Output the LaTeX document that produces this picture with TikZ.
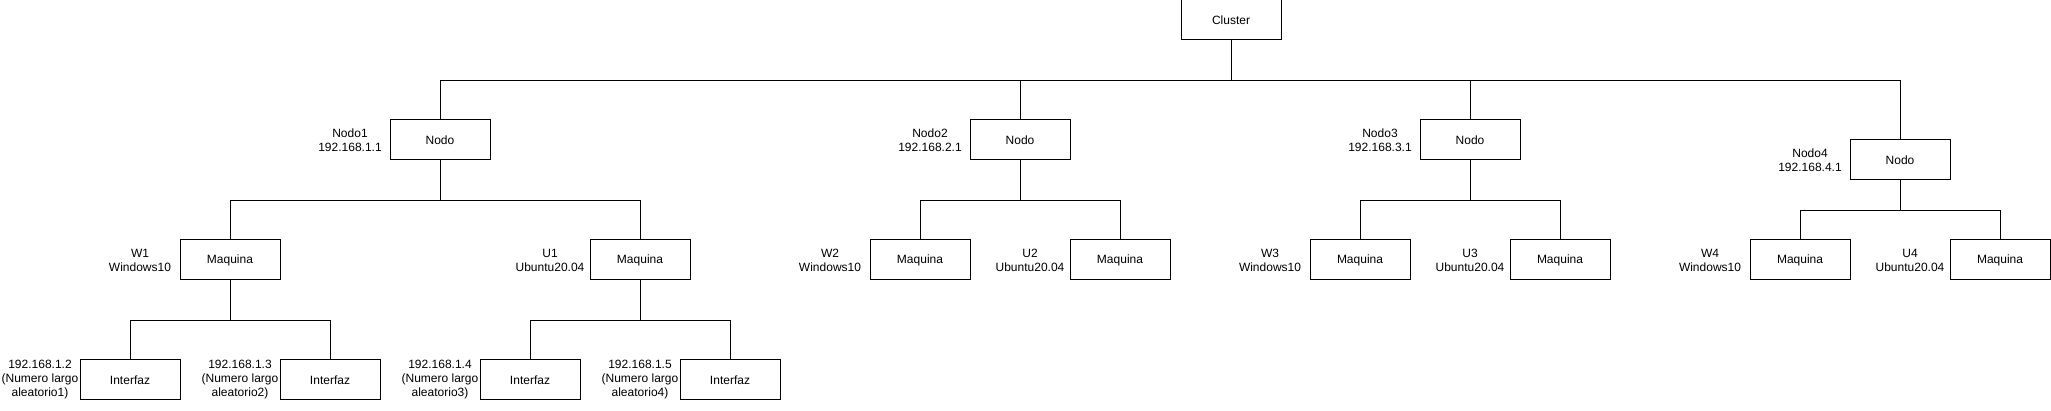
\documentclass[tikz,border=0pt]{standalone}
\usepackage{fontspec}
\setmainfont{Liberation Sans}
\usepackage{tikz}
\usetikzlibrary{positioning}

\tikzset{
  caja/.style={draw=black, fill=white, line width=1pt, minimum width=100pt, minimum height=40pt, inner sep=0pt, font=\fontsize{12}{14}\selectfont},
  etiqueta/.style={align=center, inner sep=0pt, font=\fontsize{12}{14}\selectfont},
  rama/.style={black, line width=1pt}
}

\begin{document}
\begin{tikzpicture}[x=1pt, y=-1pt]

\useasboundingbox (0,0) rectangle (2051,411);

\node[caja] (cluster) at (1231,20) {Cluster};

\node[caja] (nodo1) at (440,140) {Nodo};
\node[caja] (nodo2) at (1020,140) {Nodo};
\node[caja] (nodo3) at (1470,140) {Nodo};
\node[caja] (nodo4) at (1900,160) {Nodo};

\node[etiqueta] (nodo1l) at ([xshift=-90pt]nodo1.center) {Nodo1\\192.168.1.1};
\node[etiqueta] (nodo2l) at ([xshift=-90pt]nodo2.center) {Nodo2\\192.168.2.1};
\node[etiqueta] (nodo3l) at ([xshift=-90pt]nodo3.center) {Nodo3\\192.168.3.1};
\node[etiqueta] (nodo4l) at ([xshift=-90pt]nodo4.center) {Nodo4\\192.168.4.1};

\node[caja] (w1) at (230,260) {Maquina};
\node[caja] (u1) at (640,260) {Maquina};
\node[caja] (w2) at (920,260) {Maquina};
\node[caja] (u2) at (1120,260) {Maquina};
\node[caja] (w3) at (1360,260) {Maquina};
\node[caja] (u3) at (1560,260) {Maquina};
\node[caja] (w4) at (1800,260) {Maquina};
\node[caja] (u4) at (2000,260) {Maquina};

\node[etiqueta] (w1l) at ([xshift=-90pt]w1.center) {W1\\Windows10};
\node[etiqueta] (u1l) at ([xshift=-90pt]u1.center) {U1\\Ubuntu20.04};
\node[etiqueta] (w2l) at ([xshift=-90pt]w2.center) {W2\\Windows10};
\node[etiqueta] (u2l) at ([xshift=-90pt]u2.center) {U2\\Ubuntu20.04};
\node[etiqueta] (w3l) at ([xshift=-90pt]w3.center) {W3\\Windows10};
\node[etiqueta] (u3l) at ([xshift=-90pt]u3.center) {U3\\Ubuntu20.04};
\node[etiqueta] (w4l) at ([xshift=-90pt]w4.center) {W4\\Windows10};
\node[etiqueta] (u4l) at ([xshift=-90pt]u4.center) {U4\\Ubuntu20.04};

\node[caja] (if1) at (130,380) {Interfaz};
\node[caja] (if2) at (330,380) {Interfaz};
\node[caja] (if3) at (530,380) {Interfaz};
\node[caja] (if4) at (730,380) {Interfaz};

\node[etiqueta] (if1l) at ([xshift=-90pt]if1.center) {192.168.1.2\\(Numero largo\\aleatorio1)};
\node[etiqueta] (if2l) at ([xshift=-90pt]if2.center) {192.168.1.3\\(Numero largo\\aleatorio2)};
\node[etiqueta] (if3l) at ([xshift=-90pt]if3.center) {192.168.1.4\\(Numero largo\\aleatorio3)};
\node[etiqueta] (if4l) at ([xshift=-90pt]if4.center) {192.168.1.5\\(Numero largo\\aleatorio4)};

% cluster -> nodos
\draw[rama] (cluster.south) -- ++(0,40) -| (nodo1.north);
\draw[rama] (cluster.south) -- ++(0,40) -| (nodo2.north);
\draw[rama] (cluster.south) -- ++(0,40) -| (nodo3.north);
\draw[rama] (cluster.south) -- ++(0,40) -| (nodo4.north);

% nodos -> maquinas
\draw[rama] (nodo1.south) -- ++(0,40) -| (w1.north);
\draw[rama] (nodo1.south) -- ++(0,40) -| (u1.north);
\draw[rama] (nodo2.south) -- ++(0,40) -| (w2.north);
\draw[rama] (nodo2.south) -- ++(0,40) -| (u2.north);
\draw[rama] (nodo3.south) -- ++(0,40) -| (w3.north);
\draw[rama] (nodo3.south) -- ++(0,40) -| (u3.north);
\draw[rama] (nodo4.south) -- ++(0,30) -| (w4.north);
\draw[rama] (nodo4.south) -- ++(0,30) -| (u4.north);

% maquinas -> interfaces
\draw[rama] (w1.south) -- ++(0,40) -| (if1.north);
\draw[rama] (w1.south) -- ++(0,40) -| (if2.north);
\draw[rama] (u1.south) -- ++(0,40) -| (if3.north);
\draw[rama] (u1.south) -- ++(0,40) -| (if4.north);

\end{tikzpicture}
\end{document}
